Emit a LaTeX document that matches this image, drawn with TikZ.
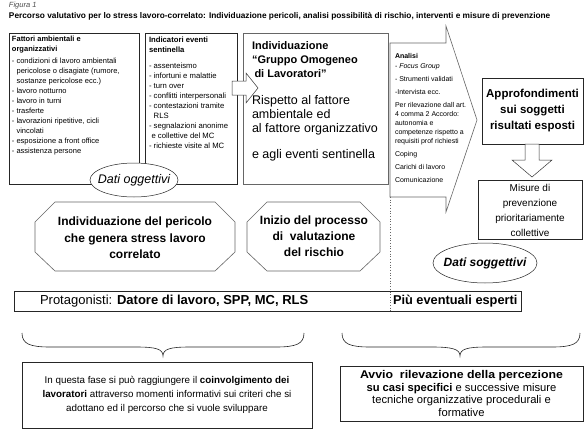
\documentclass[tikz,border=0pt]{standalone}
\usepackage{fontspec}
\setmainfont{Liberation Sans}
\usetikzlibrary{shapes.geometric}
\newcommand{\myfs}[2]{\fontsize{#1}{#2}\selectfont}
\begin{document}
\begin{tikzpicture}[x=1pt,y=-1pt,line join=miter,
  frame/.style={draw=black!85,line width=0.6pt},
  grayframe/.style={draw=black!60,line width=0.6pt},
  blockarrow/.style={draw=black!80,line width=0.5pt,fill=white},
  txt/.style={inner sep=0pt,outer sep=0pt},
  oval/.style={draw=black!85,line width=0.5pt,fill=white},
  brace/.style={draw=black!85,line width=0.6pt}]
\useasboundingbox (0,0) rectangle (586,439);
\fill[white] (0,0) rectangle (586,439);

% title
\node[txt,anchor=west,text=black!70,font={\myfs{7.5}{9}\itshape}] (fig) at (9,6) {Figura 1};
\node[txt,anchor=west,font={\myfs{8.3}{9}\bfseries}] (title) at (9,16.5) {Percorso valutativo per lo stress lavoro-correlato: Individuazione pericoli, analisi possibilità di rischio, interventi e misure di prevenzione};

% top boxes
\draw[frame] (9,33) rectangle (139,184);
\draw[frame] (145,33) rectangle (237,184);
\draw[grayframe] (243,33) rectangle (388,184);

\node[txt,anchor=north west,align=left,font={\myfs{7.5}{10}}] (fattori) at (12,36.5) {%
\textbf{Fattori ambientali e}\\ \textbf{organizzativi}\\[2pt]
- condizioni di lavoro ambientali\\
\phantom{- }pericolose o disagiate (rumore,\\
\phantom{- }sostanze pericolose ecc.)\\
- lavoro notturno\\
- lavoro in turni\\
- trasferte\\
- lavorazioni ripetitive, cicli\\
\phantom{- }vincolati\\
- esposizione a front office\\
- assistenza persone};

\node[txt,anchor=north west,align=left,font={\myfs{7.7}{10}}] (indicatori) at (149,36.5) {%
\textbf{Indicatori eventi}\\ \textbf{sentinella}\\[6pt]
- assenteismo\\
- infortuni e malattie\\
- turn over\\
- conflitti interpersonali\\
- contestazioni tramite\\
\phantom{- }RLS\\
- segnalazioni anonime\\
\phantom{-}e collettive del MC\\
- richieste visite al MC};

\node[txt,anchor=north west,align=left,font={\myfs{11}{14}\bfseries}] (gruppo) at (252,42) {%
Individuazione\\
“Gruppo Omogeneo\\
\hspace{2.5pt}di Lavoratori”};
\node[txt,anchor=north west,align=left,font={\myfs{12.5}{14}}] (rispetto) at (252,95.5) {%
Rispetto al fattore\\
ambientale ed\\
al fattore organizzativo\\[12pt]
e agli eventi sentinella};

% block arrow box2 -> box3
\draw[blockarrow] (232,81) -- (246,81) -- (246,73) -- (258,88) -- (246,103) -- (246,95) -- (232,95) -- cycle;

% Dati oggettivi
\draw[oval] (134,180) ellipse [x radius=44,y radius=17];
\node[txt,font={\myfs{12.5}{14}\itshape}] (oggettivi) at (134,180) {Dati oggettivi};

% Analisi chevron
\draw[grayframe,fill=white] (390,43) -- (446,43) -- (446,26) -- (477,120) -- (446,212) -- (446,197) -- (390,197) -- cycle;
\node[txt,anchor=north west,align=left,font={\myfs{7}{9}}] (analisi) at (395,53) {%
\textbf{Analisi}\\[1pt]
- \textit{Focus Group}\\[4pt]
- Strumenti validati\\[4pt]
-Intervista ecc.\\[4pt]
Per rilevazione dall art.\\
4 comma 2 Accordo:\\
autonomia e\\
competenze rispetto a\\
requisiti prof richiesti\\[4pt]
Coping\\[4pt]
Carichi di lavoro\\[4pt]
Comunicazione};

\draw[black!60,dotted,line width=0.7pt] (390,197) -- (390,312);

% Approfondimenti
\node[frame,minimum width=101,minimum height=66,inner sep=0pt,align=center,font={\myfs{11.5}{16}\bfseries}] (approf) at (532.5,111) {Approfondimenti\\ sui soggetti\\ risultati esposti};
\draw[blockarrow] (525,144) -- (539,144) -- (539,160) -- (552,160) -- (532,177) -- (512,160) -- (525,160) -- cycle;
\node[frame,minimum width=104,minimum height=59,inner sep=0pt,align=center,font={\myfs{10}{15}}] (misure) at (530,210) {Misure di\\ prevenzione\\ prioritariamente\\ collettive};

\draw[oval] (485,263) ellipse [x radius=52,y radius=20];
\node[txt,font={\myfs{12}{14}\bfseries\itshape}] (soggettivi) at (485,263) {Dati soggettivi};

% octagons
\draw[grayframe] (55,202) -- (215,202) -- (235,222) -- (235,252) -- (215,271) -- (55,271) -- (35,252) -- (35,222) -- cycle;
\node[txt,align=center,font={\myfs{12}{16.5}\bfseries}] (pericolo) at (135,238) {Individuazione del pericolo\\ che genera stress lavoro\\ correlato};
\draw[grayframe] (267,202) -- (360,202) -- (380,222) -- (380,252) -- (360,271) -- (267,271) -- (247,252) -- (247,222) -- cycle;
\node[txt,align=center,font={\myfs{12}{16}\bfseries}] (inizio) at (314,236) {Inizio del processo\\ di\ \ valutazione\\ del rischio};

% protagonisti
\draw[frame] (14,291) rectangle (521,311);
\node[txt,anchor=west,font={\myfs{13}{14}}] (prot) at (40,301) {Protagonisti: \textbf{Datore di lavoro, SPP, MC, RLS}};
\node[txt,anchor=west,font={\myfs{12.8}{14}\bfseries}] (esperti) at (393,301) {Più eventuali esperti};

% braces
\draw[brace] (22,333) .. controls (22,344) and (30,347) .. (50,347) -- (136,347) .. controls (156,347) and (163,349) .. (163,356) .. controls (163,349) and (170,347) .. (190,347) -- (276,347) .. controls (296,347) and (304,344) .. (304,333);
\draw[brace] (342,333) .. controls (342,344) and (350,347) .. (370,347) -- (432,347) .. controls (452,347) and (460,349) .. (460,356) .. controls (460,349) and (467,347) .. (487,347) -- (552,347) .. controls (572,347) and (580,344) .. (580,333);

% bottom boxes
\node[frame,minimum width=290,minimum height=66,inner sep=0pt,align=center,font={\myfs{9.8}{14}}] (fase) at (167,395) {In questa fase si può raggiungere il \textbf{coinvolgimento dei}\\ \textbf{lavoratori} attraverso momenti informativi sui criteri che si\\ adottano ed il percorso che si vuole sviluppare};
\node[frame,minimum width=243,minimum height=55,inner sep=0pt,align=center,font={\myfs{11.2}{12.8}}] (avvio) at (461.5,393.5) {\scalebox{1.1}[1]{\textbf{Avvio\ \ rilevazione della percezione}}\\ \textbf{su casi specifici} e successive misure\\ tecniche organizzative procedurali e\\ formative};
\end{tikzpicture}
\end{document}
